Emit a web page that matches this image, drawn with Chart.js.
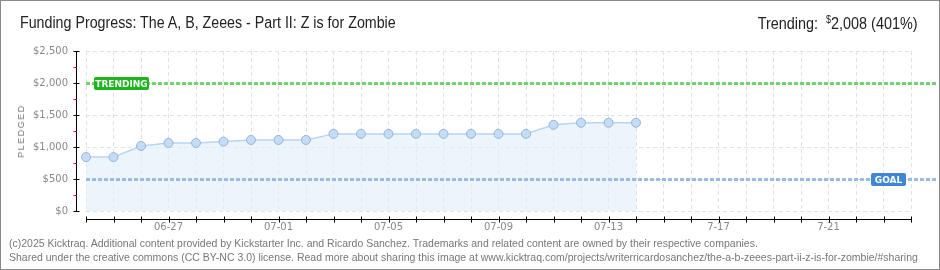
<!DOCTYPE html>
<html>
<head>
<meta charset="utf-8">
<script src="https://cdn.jsdelivr.net/npm/chart.js@4"></script>
<style>
  body { margin: 0; background: #fff; }
  #wrap { position: relative; width: 940px; height: 270px; box-sizing: border-box; border: 1px solid #8a8a8a; overflow: hidden; font-family: "Liberation Sans", sans-serif; }
  #myChart { position: absolute; left: 0; top: 0; }
  .txt { position: absolute; white-space: nowrap; }
  #title { left: 19px; top: 13px; font-size: 16px; color: #222; transform: scaleX(0.89); transform-origin: left center; }
  #trend { right: 21px; top: 13px; font-size: 16px; color: #222; transform: scaleX(0.9); transform-origin: right center; }
  #ytitle { left: 20px; top: 130px; font-size: 9px; color: #777; letter-spacing: 1.5px; transform: translate(-50%, -50%) rotate(-90deg); }
  .foot { left: 8px; font-size: 10.5px; color: #777; }
</style>
</head>
<body>
<div id="wrap">
  <canvas id="myChart" width="940" height="270"></canvas>
  <div id="title" class="txt">Funding Progress: The A, B, Zeees - Part II: Z is for Zombie</div>
  <div id="trend" class="txt">Trending:&nbsp; <sup style="font-size:10px">$</sup>2,008 (401%)</div>
  <div id="ytitle" class="txt">PLEDGED</div>
  <div class="txt foot" style="top:236px">(c)2025 Kicktraq. Additional content provided by Kickstarter Inc. and Ricardo Sanchez. Trademarks and related content are owned by their respective companies.</div>
  <div class="txt foot" style="top:250px">Shared under the creative commons (CC BY-NC 3.0) license. Read more about sharing this image at www.kicktraq.com/projects/writerricardosanchez/the-a-b-zeees-part-ii-z-is-for-zombie/#sharing</div>
</div>
<script>
const days = ['06-24','06-25','06-26','06-27','06-28','06-29','06-30','07-01','07-02','07-03','07-04',
  '07-05','07-06','07-07','07-08','07-09','07-10','07-11','07-12','07-13','07-14','07-15','07-16',
  '7-17','07-18','07-19','07-20','7-21','07-22','07-23','07-24'];
const shownLabels = ['06-27','07-01','07-05','07-09','07-13','7-17','7-21'];
const pledged = [842, 842, 1016, 1063, 1063, 1084, 1110, 1110, 1110, 1205, 1205, 1205, 1205,
  1205, 1205, 1205, 1205, 1347, 1379, 1379, 1379];
const yTicks = [0, 500, 1000, 1500, 2000, 2500];
const trendingValue = 2000;
const goalValue = 500;

function money(v) {
  return '$' + v.toLocaleString('en-US');
}

function drawTag(ctx, x, y, w, h, color, text) {
  ctx.fillStyle = color;
  ctx.beginPath();
  ctx.roundRect(x, y, w, h, 2);
  ctx.fill();
  ctx.fillStyle = '#fff';
  ctx.font = 'bold 9px "DejaVu Sans"';
  ctx.textAlign = 'center';
  ctx.textBaseline = 'middle';
  ctx.fillText(text, x + w / 2, y + h / 2 + 1);
}

const extras = {
  id: 'extras',
  afterDatasetsDraw(chart) {
    const ctx = chart.ctx;
    const area = chart.chartArea;
    const y = chart.scales.y;
    ctx.save();
    // trending + goal lines
    const ty = Math.round(y.getPixelForValue(trendingValue)) + 0.5;
    const gy = Math.round(y.getPixelForValue(goalValue)) + 0.5;
    ctx.lineWidth = 3;
    ctx.setLineDash([4, 2]);
    ctx.strokeStyle = '#6fd36f';
    ctx.beginPath(); ctx.moveTo(area.left, ty); ctx.lineTo(936, ty); ctx.stroke();
    ctx.strokeStyle = '#9dbbe0';
    ctx.beginPath(); ctx.moveTo(area.left, gy); ctx.lineTo(936, gy); ctx.stroke();
    ctx.restore();
  },
  afterDraw(chart) {
    const ctx = chart.ctx;
    const area = chart.chartArea;
    const y = chart.scales.y;
    const x = chart.scales.x;
    ctx.save();
    // y axis
    const ax = area.left - 9.5;
    ctx.strokeStyle = '#000';
    ctx.lineWidth = 1;
    ctx.beginPath(); ctx.moveTo(ax, area.top); ctx.lineTo(ax, area.bottom + 1); ctx.stroke();
    for (let v = 0; v <= 2500; v += 250) {
      const py = Math.round(y.getPixelForValue(v)) + 0.5;
      ctx.strokeStyle = v % 500 === 0 ? '#000' : '#e00';
      ctx.beginPath(); ctx.moveTo(ax - 3, py); ctx.lineTo(ax + (v % 500 === 0 ? 3 : 0), py); ctx.stroke();
    }
    // x axis
    const by = area.bottom + 8.5;
    ctx.strokeStyle = '#000';
    ctx.beginPath(); ctx.moveTo(area.left, by); ctx.lineTo(area.right, by); ctx.stroke();
    for (let i = 0; i < days.length; i++) {
      const px = Math.round(x.getPixelForValue(i)) + 0.5;
      ctx.beginPath(); ctx.moveTo(px, by - 3); ctx.lineTo(px, by + 3); ctx.stroke();
    }
    ctx.restore();
    const ty = y.getPixelForValue(trendingValue);
    const gy = y.getPixelForValue(goalValue);
    drawTag(ctx, area.left + 8, ty - 6, 55, 13, '#1cb51c', 'TRENDING');
    drawTag(ctx, 870, gy - 6, 35, 13, '#3f86d4', 'GOAL');
  }
};

const chartArea = document.querySelector('#myChart');
new Chart(chartArea, {
  type: 'line',
  data: {
    labels: days,
    datasets: [{
      data: pledged,
      borderColor: '#b9d5f2',
      borderWidth: 1.5,
      backgroundColor: 'rgba(226,238,251,0.65)',
      fill: 'origin',
      pointRadius: 4.5,
      pointBackgroundColor: '#c4dcf6',
      pointBorderColor: '#93b5dc',
      pointBorderWidth: 1,
      tension: 0
    }]
  },
  options: {
    responsive: false,
    animation: false,
    events: [],
    layout: { padding: { top: 50, right: 30, left: 0, bottom: 0 } },
    plugins: { legend: { display: false }, tooltip: { enabled: false } },
    scales: {
      x: {
        offset: false,
        border: { display: false, dash: [4, 3] },
        grid: { color: '#e2e2e2', drawTicks: false },
        ticks: {
          autoSkip: false, maxRotation: 0, padding: 10,
          color: '#888', font: { family: 'DejaVu Sans', size: 10 },
          callback: function (val) {
            const l = days[val];
            return shownLabels.includes(l) ? l : '';
          }
        },
        afterFit: function (scale) { scale.height = 60; }
      },
      y: {
        min: 0, max: 2500,
        border: { display: false, dash: [4, 3] },
        grid: { color: '#e2e2e2', drawTicks: false },
        afterBuildTicks: function (scale) { scale.ticks = yTicks.map(v => ({ value: v })); },
        ticks: {
          padding: 18, color: '#888', font: { family: 'DejaVu Sans', size: 10 },
          callback: v => money(v)
        },
        afterFit: function (scale) { scale.width = 85; }
      }
    }
  },
  plugins: [extras]
});
</script>
</body>
</html>
